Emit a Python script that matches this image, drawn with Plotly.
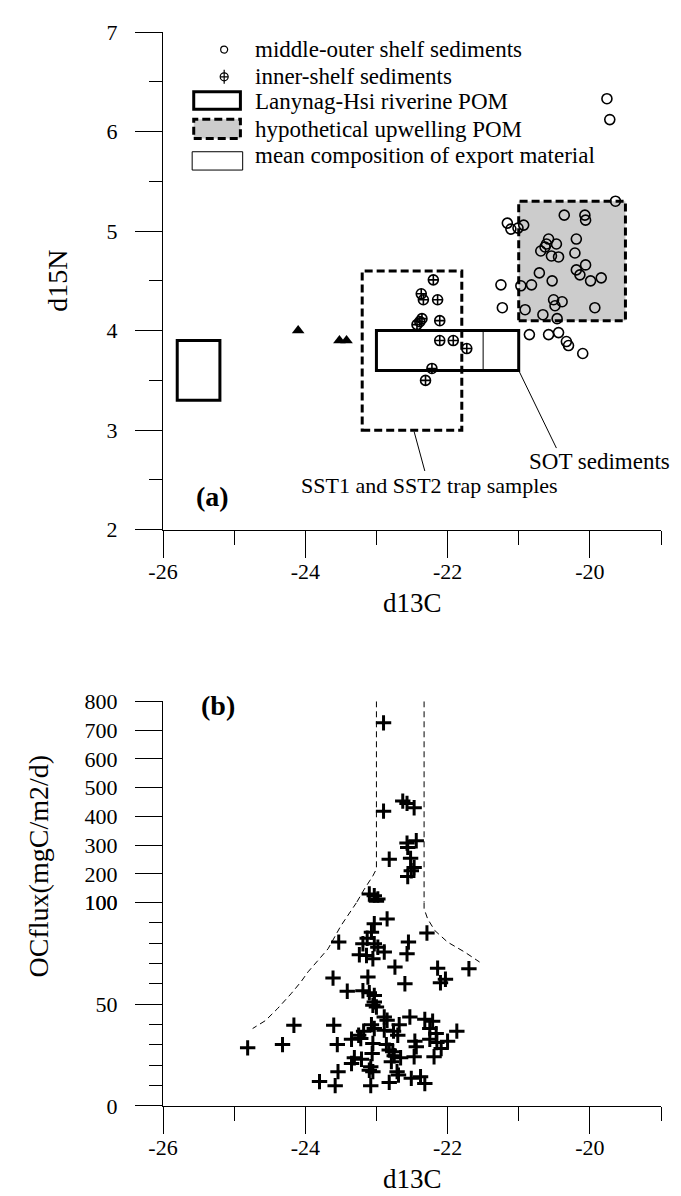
import plotly.graph_objects as go

# ---------------- data : panel (a) ----------------
mo_d13C = [-19.64, -20.36, -20.07, -20.06, -21.16, -21.11, -21.01, -20.93, -20.19, -20.58,
           -20.61, -20.47, -20.69, -20.21, -20.54, -20.44, -20.06, -20.19, -20.14, -20.71,
           -20.53, -19.99, -19.84, -21.25, -20.97, -20.82, -21.23, -20.91, -20.66, -20.51,
           -20.39, -20.49, -19.93, -20.46, -20.85, -20.58, -20.44, -20.33, -20.30, -20.10,
           -19.76, -19.72, -20.63]
mo_d15N = [5.30, 5.16, 5.16, 5.11, 5.08, 5.02, 5.03, 5.06, 4.92, 4.92,
           4.87, 4.87, 4.80, 4.78, 4.75, 4.74, 4.66, 4.61, 4.56, 4.58,
           4.50, 4.50, 4.53, 4.46, 4.45, 4.46, 4.23, 4.21, 4.16, 4.31,
           4.29, 4.25, 4.23, 4.12, 3.96, 3.96, 3.98, 3.89, 3.85, 3.77,
           6.33, 6.12, 4.84]

inner_d13C = [-22.20, -22.37, -22.34, -22.14, -22.36, -22.39, -22.43, -22.11, -22.11,
              -21.92, -21.73, -22.22, -22.31]
inner_d15N = [4.51, 4.37, 4.31, 4.31, 4.12, 4.09, 4.06, 4.10, 3.90,
              3.90, 3.82, 3.62, 3.50]

tri_d13C = [-24.10, -23.52, -23.42]
tri_d15N = [4.00, 3.90, 3.90]

# boxes: riverine POM, SOT sediments, trap samples, upwelling POM
box_x0 = [-25.8, -23.0, -23.2, -21.0]
box_x1 = [-25.2, -21.0, -21.8, -19.5]
box_y0 = [3.3, 3.6, 3.0, 4.1]
box_y1 = [3.9, 4.0, 4.6, 5.3]
sot_split_d13C = -21.5

sot_leader_x = [-21.0, -20.47]
sot_leader_y = [3.6, 2.82]
trap_leader_x = [-22.47, -22.32]
trap_leader_y = [2.985, 2.59]

legend_labels = ["middle-outer shelf sediments", "inner-shelf sediments",
                 "Lanynag-Hsi riverine POM", "hypothetical upwelling POM",
                 "mean composition of export material"]

# ---------------- data : panel (b) ----------------
flux_d13C = [-22.90, -22.90, -22.63, -22.57, -22.47, -22.57, -22.44, -22.56, -22.82, -22.52,
             -22.47, -22.51, -22.56, -23.10, -23.03, -22.98, -23.00,
             -22.85, -23.03, -23.07, -23.13, -23.53, -22.55, -23.19, -23.03, -22.98, -22.89,
             -23.24, -23.14, -23.05, -22.57, -22.29, -22.74, -22.14, -21.70, -23.61, -23.12,
             -22.60, -22.10, -22.03, -23.41, -23.19, -23.10, -23.03, -23.03, -23.05, -23.00,
             -22.89, -22.85, -22.53, -22.32, -22.21, -24.16, -23.60, -23.07, -22.68, -22.25,
             -21.87, -23.18, -23.25, -22.89, -22.76, -22.70, -23.35, -23.55, -24.32, -24.81,
             -23.05, -22.86, -22.82, -22.75, -22.66, -22.46, -22.44, -22.47, -22.25, -22.15,
             -22.09, -22.00, -22.19, -23.06, -23.31, -23.21, -23.35, -23.08, -23.05, -23.54,
             -22.71, -22.69, -22.82, -22.51, -22.38, -22.32, -23.80, -23.58, -23.08,
             -23.22, -23.03, -22.16, -22.79, -23.10, -22.77]
flux_oc = [725, 418, 453, 445, 430, 307, 315, 292, 251, 254,
           222, 211, 191, 130, 124, 113, 104,
           92.0, 89.6, 85.5, 82.5, 80.6, 80.6, 79.8, 79.8, 78.1, 75.7,
           74.4, 74.0, 72.4, 74.9, 85.1, 68.3, 67.8, 67.5, 62.9, 63.4,
           60.1, 60.6, 62.3, 56.4, 56.7, 55.7, 54.4, 51.2, 49.5, 48.7,
           43.8, 42.2, 43.8, 42.6, 41.7, 39.7, 39.7, 40.0, 40.0, 38.1,
           36.8, 36.8, 34.8, 37.3, 36.8, 34.8, 32.8, 30.2, 30.2, 28.6,
           30.7, 30.2, 27.5, 24.7, 23.7, 31.9, 29.1, 24.2, 32.8, 31.2,
           28.3, 31.9, 24.2, 25.8, 23.7, 23.0, 20.9, 19.3, 16.9, 16.9,
           16.9, 15.2, 11.6, 13.6, 14.4, 11.1, 12.0, 10.0, 10.0,
           33.2, 38.1, 35.6, 21.8, 17.6, 26.7]

env_left_d13C = [-23.0, -23.0, -23.05, -23.17, -23.28, -23.31, -23.50, -23.68, -23.96,
                 -24.06, -24.20, -24.39, -24.56, -24.74]
env_left_oc = [800, 217, 193, 147, 100, 98.5, 88.6, 77.3, 66.0, 61.1, 55.2, 47.9, 42.0, 38.1]
env_right_d13C = [-22.33, -22.33, -22.28, -22.18, -22.00, -21.76, -21.55]
env_right_oc = [800, 97, 92, 86.3, 80.6, 75.7, 70.8]

BREAK = 100
x_major = [-26, -24, -22, -20]
x_minor = [-25, -23, -21, -19]
top_major = [2, 3, 4, 5, 6, 7]
top_minor = [2.5, 3.5, 4.5, 5.5, 6.5]
up_ticks = [100, 200, 300, 400, 500, 600, 700, 800]
low_ticks = [0, 50, 100]
low_minor = [10, 20, 30, 40, 60, 70, 80, 90]

FONT = "Liberation Serif"
BLACK = "black"


def split_at(xs, ys, brk):
    ux, uy, lx, ly = [], [], [], []
    for i, (x, y) in enumerate(zip(xs, ys)):
        if i > 0:
            px, py = xs[i - 1], ys[i - 1]
            if (py - brk) * (y - brk) < 0:
                t = (brk - py) / (y - py)
                xi = px + t * (x - px)
                ux.append(xi); uy.append(brk); lx.append(xi); ly.append(brk)
        if y >= brk:
            ux.append(x); uy.append(y)
        if y <= brk:
            lx.append(x); ly.append(y)
    return ux, uy, lx, ly


fig = go.Figure()

# ---- panel (a) traces ----
fig.add_trace(go.Scatter(x=mo_d13C, y=mo_d15N, mode="markers", xaxis="x", yaxis="y",
                         marker=dict(symbol="circle-open", size=10, color=BLACK,
                                     line=dict(width=1.6, color=BLACK))))
fig.add_trace(go.Scatter(x=inner_d13C, y=inner_d15N, mode="markers", xaxis="x", yaxis="y",
                         marker=dict(symbol="circle-cross-open", size=10, color=BLACK,
                                     line=dict(width=1.6, color=BLACK))))
fig.add_trace(go.Scatter(x=tri_d13C, y=tri_d15N, mode="markers", xaxis="x", yaxis="y",
                         marker=dict(symbol="triangle-up", size=11, color=BLACK)))

# ---- panel (b) traces ----
up_x = [x for x, y in zip(flux_d13C, flux_oc) if y > BREAK]
up_y = [y for y in flux_oc if y > BREAK]
lo_x = [x for x, y in zip(flux_d13C, flux_oc) if y <= BREAK]
lo_y = [y for y in flux_oc if y <= BREAK]
plus = dict(symbol="cross-thin-open", size=11, color=BLACK, line=dict(width=3, color=BLACK))
fig.add_trace(go.Scatter(x=up_x, y=up_y, mode="markers", xaxis="x2", yaxis="y2", marker=plus))
fig.add_trace(go.Scatter(x=lo_x, y=lo_y, mode="markers", xaxis="x2", yaxis="y3", marker=plus))

for ex, ey in ((env_left_d13C, env_left_oc), (env_right_d13C, env_right_oc)):
    ux, uy, lx, ly = split_at(ex, ey, BREAK)
    fig.add_trace(go.Scatter(x=ux, y=uy, mode="lines", xaxis="x2", yaxis="y2",
                             line=dict(color=BLACK, width=1, dash="6px,4px")))
    fig.add_trace(go.Scatter(x=lx, y=ly, mode="lines", xaxis="x2", yaxis="y3",
                             line=dict(color=BLACK, width=1, dash="6px,4px")))

# ---- shapes panel (a) ----
shapes = []
box_styles = [dict(line=dict(color=BLACK, width=3), fillcolor="rgba(0,0,0,0)"),
              dict(line=dict(color=BLACK, width=3), fillcolor="rgba(0,0,0,0)"),
              dict(line=dict(color=BLACK, width=3, dash="8px,4px"), fillcolor="rgba(0,0,0,0)"),
              dict(line=dict(color=BLACK, width=3, dash="8px,4px"), fillcolor="#cccccc")]
for x0, x1, y0, y1, st in zip(box_x0, box_x1, box_y0, box_y1, box_styles):
    shapes.append(dict(type="rect", xref="x", yref="y", x0=x0, x1=x1, y0=y0, y1=y1,
                       layer="below", **st))
shapes.append(dict(type="line", xref="x", yref="y", x0=sot_split_d13C, x1=sot_split_d13C,
                   y0=box_y0[1], y1=box_y1[1], line=dict(color=BLACK, width=1), layer="below"))
for lx_, ly_ in ((sot_leader_x, sot_leader_y), (trap_leader_x, trap_leader_y)):
    shapes.append(dict(type="line", xref="x", yref="y", x0=lx_[0], x1=lx_[1], y0=ly_[0], y1=ly_[1],
                       line=dict(color=BLACK, width=1)))

# ---- custom legend (layout positions) ----
leg_row_y = [6.823, 6.55, 6.297, 6.023, 5.763]
leg_sym_x = -25.14
leg_text_x = -24.72
shapes.append(dict(type="circle", xref="x", yref="y", xsizemode="pixel", ysizemode="pixel",
                   xanchor=leg_sym_x, yanchor=leg_row_y[0], x0=-3.5, x1=3.5, y0=-3.5, y1=3.5,
                   line=dict(color=BLACK, width=1.2)))
shapes.append(dict(type="circle", xref="x", yref="y", xsizemode="pixel", ysizemode="pixel",
                   xanchor=leg_sym_x, yanchor=leg_row_y[1], x0=-4, x1=4, y0=-4, y1=4,
                   line=dict(color=BLACK, width=1.2)))
shapes.append(dict(type="line", xref="x", yref="y", xsizemode="pixel", ysizemode="pixel",
                   xanchor=leg_sym_x, yanchor=leg_row_y[1], x0=0, x1=0, y0=-7, y1=7,
                   line=dict(color=BLACK, width=1.2)))
shapes.append(dict(type="line", xref="x", yref="y", xsizemode="pixel", ysizemode="pixel",
                   xanchor=leg_sym_x, yanchor=leg_row_y[1], x0=-4, x1=4, y0=0, y1=0,
                   line=dict(color=BLACK, width=1.2)))
leg_boxes = [(-25.568, -24.912, 6.223, 6.40, box_styles[0]),
             (-25.568, -24.912, 5.93, 6.123, box_styles[3]),
             (-25.59, -24.88, 5.613, 5.797, dict(line=dict(color=BLACK, width=1),
                                                 fillcolor="rgba(0,0,0,0)"))]
for x0, x1, y0, y1, st in leg_boxes:
    shapes.append(dict(type="rect", xref="x", yref="y", x0=x0, x1=x1, y0=y0, y1=y1, **st))


def txt(text, x, y, xref, yref, size=23, xanchor="center", yanchor="middle", **kw):
    return dict(x=x, y=y, xref=xref, yref=yref, text=text, showarrow=False,
                xanchor=xanchor, yanchor=yanchor, borderpad=0,
                font=dict(family=FONT, size=size, color=BLACK), **kw)


annotations = []
for ry, label in zip(leg_row_y, legend_labels):
    annotations.append(txt(label, leg_text_x, ry, "x", "y", xanchor="left"))
annotations += [
    txt("SOT sediments", -19.86, 2.69, "x", "y"),
    txt("SST1 and SST2 trap samples", -22.26, 2.44, "x", "y", size=22),
    txt("<b>(a)</b>", -25.30, 2.335, "x", "y", size=28),
    txt("<b>(b)</b>", -25.23, 785, "x2", "y2", size=28),
    txt("d15N", 0, 0.5, "x domain", "y domain", size=28, xshift=-105, textangle=-90),
    txt("d13C", 0.5, 0, "x domain", "y domain", size=27, yanchor="bottom", yshift=-89),
    txt("OCflux(mgC/m2/d)", 0, 0.2231, "x2 domain", "paper", size=28, xshift=-125,
        textangle=-90),
    txt("d13C", 0.5, 0, "x2 domain", "y3 domain", size=27, yanchor="bottom", yshift=-89),
]

tickfont = dict(family=FONT, size=22, color=BLACK)


def xax(anchor):
    return dict(range=[-26, -19], domain=[0, 1], anchor=anchor, tickmode="array",
                tickvals=x_major, ticktext=[str(v) for v in x_major], ticks="outside",
                ticklen=27, tickwidth=1, tickcolor=BLACK, showline=True, linecolor=BLACK,
                linewidth=1, showgrid=False, zeroline=False, tickfont=tickfont,
                ticklabelstandoff=-5,
                minor=dict(tickmode="array", tickvals=x_minor, ticks="outside", ticklen=14,
                           tickcolor=BLACK, tickwidth=1, showgrid=False))


def yax(rng, dom, vals, anchor, minor_vals=None):
    d = dict(range=rng, domain=dom, anchor=anchor, tickmode="array", tickvals=vals,
             ticktext=[str(v) for v in vals], ticks="outside", ticklen=27, tickwidth=1,
             tickcolor=BLACK, showline=True, linecolor=BLACK, linewidth=1, showgrid=False,
             zeroline=False, tickfont=tickfont, ticklabelstandoff=13)
    if minor_vals:
        d["minor"] = dict(tickmode="array", tickvals=minor_vals, ticks="outside", ticklen=13,
                          tickcolor=BLACK, tickwidth=1, showgrid=False)
    return d


fig.update_layout(
    width=681, height=1196,
    margin=dict(l=155, r=28, t=19, b=98),
    paper_bgcolor="white", plot_bgcolor="white",
    showlegend=False,
    xaxis=xax("y"),
    yaxis=yax([2, 7], [0.5366, 1.0], top_major, "x", top_minor),
    xaxis2=xax("y3"),
    yaxis2=yax([100, 800], [0.18934, 0.37683], up_ticks, "x2"),
    yaxis3=yax([0, 100], [0, 0.18934], low_ticks, "x2", low_minor),
    shapes=shapes, annotations=annotations,
    font=dict(family=FONT, color=BLACK),
)

fig.write_html("out.html")
